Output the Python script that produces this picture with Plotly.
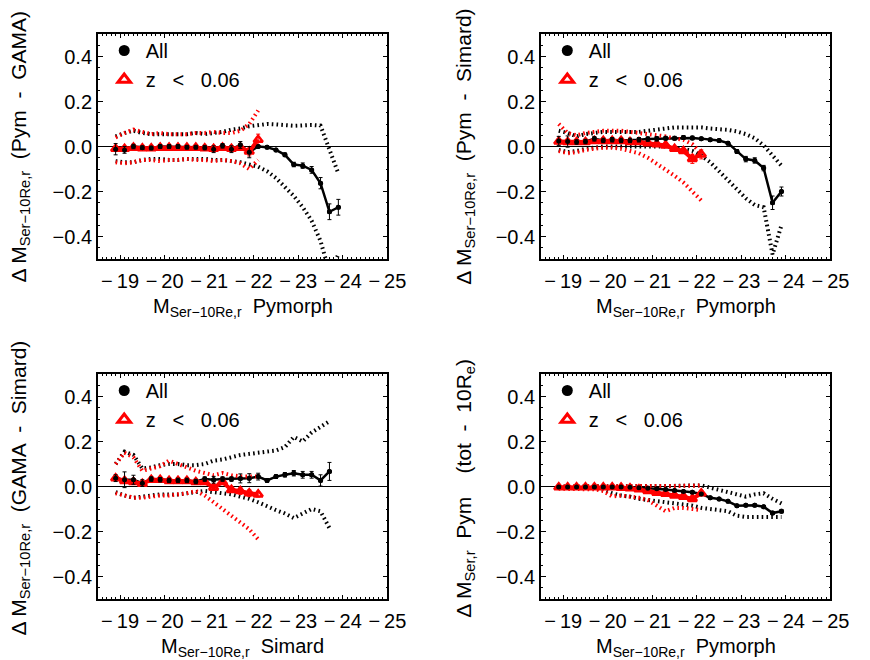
import plotly.graph_objects as go

# ---------------- data ----------------
mag = [-18.9, -19.1, -19.3, -19.5, -19.7, -19.9, -20.1, -20.3, -20.5, -20.7,
       -20.9, -21.1, -21.3, -21.5, -21.7, -21.9, -22.1, -22.3, -22.5, -22.7,
       -22.9, -23.1, -23.3, -23.5, -23.7, -23.9]
mag_p3 = mag[:25]
mag_red = mag[:17]

# Panel 1: Pym - GAMA
p1_all = [-0.012, -0.015, 0.0, -0.005, -0.007, 0.0, 0.0, 0.0, -0.003, -0.003,
          -0.005, -0.012, 0.003, -0.012, 0.007, -0.025, 0.0, -0.003, -0.015, -0.037,
          -0.08, -0.085, -0.104, -0.163, -0.29, -0.27]
p1_all_err = [0.025, 0.015, 0.01, 0.008, 0.008, 0.008, 0.008, 0.008, 0.008, 0.008,
              0.01, 0.015, 0.01, 0.015, 0.015, 0.025, 0.005, 0.005, 0.006, 0.008,
              0.01, 0.012, 0.015, 0.025, 0.035, 0.035]
p1_all_hi = [0.045, 0.06, 0.07, 0.06, 0.055, 0.055, 0.055, 0.055, 0.055, 0.06,
             0.055, 0.06, 0.065, 0.075, 0.08, 0.09, 0.095, 0.1, 0.098, 0.095,
             0.092, 0.094, 0.096, 0.093, -0.01, -0.12]
p1_all_lo = [-0.065, -0.07, -0.07, -0.06, -0.055, -0.055, -0.06, -0.06, -0.055, -0.055,
             -0.055, -0.06, -0.06, -0.065, -0.07, -0.08, -0.09, -0.11, -0.14, -0.18,
             -0.22, -0.27, -0.33, -0.42, -0.56, -0.48]
p1_red = [-0.01, -0.01, -0.005, -0.008, -0.008, -0.005, -0.005, -0.005, -0.005, -0.005,
          -0.008, -0.01, -0.005, -0.01, -0.005, -0.022, 0.03]
p1_red_err = [0.01, 0.01, 0.008, 0.008, 0.008, 0.008, 0.008, 0.008, 0.008, 0.008,
              0.008, 0.01, 0.008, 0.01, 0.01, 0.02, 0.025]
p1_red_hi = [0.04, 0.06, 0.075, 0.065, 0.055, 0.06, 0.055, 0.055, 0.055, 0.06,
             0.06, 0.065, 0.06, 0.06, 0.07, 0.1, 0.16]
p1_red_lo = [-0.07, -0.075, -0.07, -0.06, -0.06, -0.065, -0.06, -0.06, -0.055, -0.06,
             -0.06, -0.065, -0.06, -0.065, -0.075, -0.1, -0.06]

# Panel 2: Pym - Simard
p2_all = [0.025, 0.022, 0.02, 0.022, 0.034, 0.027, 0.03, 0.027, 0.027, 0.03,
          0.033, 0.034, 0.037, 0.037, 0.04, 0.038, 0.035, 0.03, 0.027, 0.015,
          -0.022, -0.056, -0.062, -0.096, -0.25, -0.2]
p2_all_err = [0.02, 0.025, 0.01, 0.01, 0.01, 0.01, 0.01, 0.01, 0.01, 0.01,
              0.01, 0.01, 0.008, 0.008, 0.008, 0.008, 0.006, 0.006, 0.006, 0.006,
              0.008, 0.012, 0.012, 0.012, 0.03, 0.02]
p2_all_hi = [0.07, 0.06, 0.045, 0.055, 0.06, 0.065, 0.065, 0.065, 0.065, 0.065,
             0.07, 0.075, 0.08, 0.085, 0.085, 0.085, 0.085, 0.08, 0.078, 0.074,
             0.067, 0.055, 0.037, 0.005, -0.04, -0.085]
p2_all_lo = [-0.015, -0.025, -0.02, -0.01, -0.005, 0.0, 0.0, 0.0, 0.0, 0.0,
             0.0, 0.0, 0.0, -0.005, -0.01, -0.02, -0.04, -0.07, -0.11, -0.15,
             -0.19, -0.23, -0.26, -0.27, -0.48, -0.35]
p2_red = [0.022, 0.02, 0.02, 0.02, 0.025, 0.025, 0.025, 0.025, 0.02, 0.02,
          0.015, 0.01, 0.005, -0.01, -0.02, -0.055, -0.035]
p2_red_err = [0.01, 0.01, 0.008, 0.008, 0.008, 0.008, 0.008, 0.008, 0.008, 0.008,
              0.008, 0.008, 0.008, 0.01, 0.01, 0.02, 0.02]
p2_red_hi = [0.1, 0.06, 0.05, 0.06, 0.065, 0.07, 0.07, 0.07, 0.065, 0.06,
             0.055, 0.05, 0.045, 0.035, 0.03, 0.01, -0.03]
p2_red_lo = [-0.02, -0.03, -0.025, -0.015, -0.01, -0.005, -0.005, -0.01, -0.02, -0.03,
             -0.05, -0.075, -0.1, -0.13, -0.16, -0.2, -0.24]

# Panel 3: GAMA - Simard
p3_all = [0.037, 0.03, 0.03, 0.015, 0.033, 0.03, 0.027, 0.027, 0.027, 0.022,
          0.033, 0.03, 0.033, 0.033, 0.036, 0.037, 0.044, 0.027, 0.044, 0.052,
          0.059, 0.052, 0.052, 0.027, 0.067]
p3_all_err = [0.015, 0.035, 0.02, 0.015, 0.01, 0.01, 0.01, 0.01, 0.01, 0.01,
              0.01, 0.015, 0.01, 0.01, 0.02, 0.02, 0.015, 0.008, 0.008, 0.01,
              0.012, 0.015, 0.015, 0.025, 0.04]
p3_all_hi = [0.1, 0.155, 0.14, 0.08, 0.085, 0.095, 0.1, 0.1, 0.095, 0.095,
             0.1, 0.115, 0.12, 0.13, 0.14, 0.145, 0.15, 0.155, 0.16, 0.175,
             0.22, 0.2, 0.24, 0.265, 0.29]
p3_all_lo = [-0.025, -0.04, -0.05, -0.045, -0.04, -0.035, -0.035, -0.035, -0.03, -0.025,
             -0.02, -0.025, -0.03, -0.035, -0.045, -0.055, -0.07, -0.09, -0.105, -0.12,
             -0.14, -0.12, -0.1, -0.11, -0.185]
p3_red = [0.037, 0.025, 0.02, 0.012, 0.03, 0.03, 0.025, 0.025, 0.025, 0.02,
          0.02, -0.005, 0.02, -0.015, -0.02, -0.03, -0.035]
p3_red_err = [0.01, 0.01, 0.01, 0.01, 0.008, 0.008, 0.008, 0.008, 0.008, 0.008,
              0.01, 0.01, 0.01, 0.01, 0.015, 0.015, 0.012]
p3_red_hi = [0.1, 0.15, 0.13, 0.07, 0.08, 0.09, 0.115, 0.1, 0.085, 0.07,
             0.06, 0.05, 0.06, 0.05, 0.045, 0.045, 0.045]
p3_red_lo = [-0.03, -0.04, -0.05, -0.05, -0.045, -0.04, -0.04, -0.035, -0.03, -0.02,
             -0.04, -0.07, -0.1, -0.13, -0.16, -0.19, -0.235]

# Panel 4: Pym (tot - 10Re)
p4_all = [-0.002, -0.002, -0.002, -0.002, -0.002, -0.002, -0.002, -0.002, -0.003, -0.005,
          -0.008, -0.01, -0.013, -0.018, -0.022, -0.025, -0.033, -0.05, -0.056, -0.066,
          -0.085, -0.083, -0.083, -0.09, -0.118, -0.11]
p4_all_err = [0.003, 0.003, 0.003, 0.003, 0.003, 0.003, 0.003, 0.003, 0.003, 0.003,
              0.003, 0.003, 0.003, 0.004, 0.004, 0.004, 0.004, 0.004, 0.004, 0.004,
              0.005, 0.005, 0.005, 0.005, 0.007, 0.007]
p4_all_hi = [0.0, 0.0, 0.0, 0.0, 0.0, 0.0, 0.0, 0.0, 0.0, 0.0,
             0.0, 0.0, 0.0, 0.002, 0.003, 0.005, 0.005, -0.005, -0.015, -0.025,
             -0.037, -0.045, -0.035, -0.03, -0.055, -0.075]
p4_all_lo = [-0.005, -0.007, -0.007, -0.007, -0.007, -0.015, -0.03, -0.04, -0.045, -0.055,
             -0.06, -0.065, -0.07, -0.075, -0.08, -0.085, -0.095, -0.1, -0.105, -0.11,
             -0.13, -0.135, -0.135, -0.135, -0.135, -0.135]
p4_red = [-0.003, -0.003, -0.003, -0.003, -0.003, -0.003, -0.003, -0.005, -0.008, -0.012,
          -0.02, -0.028, -0.032, -0.04, -0.045, -0.055, -0.03]
p4_red_err = [0.004, 0.004, 0.004, 0.004, 0.004, 0.004, 0.004, 0.004, 0.005, 0.005,
              0.005, 0.006, 0.006, 0.006, 0.007, 0.01, 0.01]
p4_red_hi = [0.0, 0.0, 0.0, 0.0, 0.0, 0.0, 0.0, 0.0, 0.0, 0.0,
             0.0, 0.0, 0.0, 0.0, 0.0, 0.003, 0.005]
p4_red_lo = [-0.01, -0.012, -0.012, -0.012, -0.012, -0.02, -0.045, -0.04, -0.045, -0.05,
             -0.06, -0.085, -0.11, -0.095, -0.095, -0.1, -0.105]

x_ticks = [-19, -20, -21, -22, -23, -24, -25]
x_ticktext = ["\u2212\u200919", "\u2212\u200920", "\u2212\u200921", "\u2212\u200922",
              "\u2212\u200923", "\u2212\u200924", "\u2212\u200925"]
y_ticks = [-0.4, -0.2, 0.0, 0.2, 0.4]
y_ticktext = ["\u22120.4", "\u22120.2", "0.0", "0.2", "0.4"]

sub = "<sub>Ser\u221210Re,r</sub>"
ytitles = ["\u0394 M" + sub + "  (Pym  -  GAMA)",
           "\u0394 M" + sub + "  (Pym  -  Simard)",
           "\u0394 M" + sub + "  (GAMA  -  Simard)",
           "\u0394 M<sub>Ser,r</sub>  Pym    (tot  -  10R<sub>e</sub>)"]
xtitles = ["M" + sub + "  Pymorph", "M" + sub + "  Pymorph",
           "M" + sub + "  Simard", "M" + sub + "  Pymorph"]
legend_names = ["All", "z\u00a0\u00a0\u00a0<\u00a0\u00a0\u00a00.06"]

panels = [
    (mag, p1_all, p1_all_err, p1_all_hi, p1_all_lo, mag_red, p1_red, p1_red_err, p1_red_hi, p1_red_lo),
    (mag, p2_all, p2_all_err, p2_all_hi, p2_all_lo, mag_red, p2_red, p2_red_err, p2_red_hi, p2_red_lo),
    (mag_p3, p3_all, p3_all_err, p3_all_hi, p3_all_lo, mag_red, p3_red, p3_red_err, p3_red_hi, p3_red_lo),
    (mag, p4_all, p4_all_err, p4_all_hi, p4_all_lo, mag_red, p4_red, p4_red_err, p4_red_hi, p4_red_lo),
]

# ---------------- layout geometry ----------------
W, H = 870, 660
xdoms = [(100 / W, 396 / W), (553 / W, 849 / W)]
ydoms = [((H - 259) / H, (H - 34) / H), ((H - 599) / H, (H - 374) / H)]
FONT = "Liberation Sans, Arial, Helvetica, sans-serif"
FS = 20

fig = go.Figure()
RED = "#ff0000"
dotted = "1.6px,3.2px"

for i, (xa, ya, ea, hi, lo, xr, yr, er, rhi, rlo) in enumerate(panels):
    n = "" if i == 0 else str(i + 1)
    xref, yref = "x" + n, "y" + n
    leg = "legend" + n
    common = dict(xaxis=xref, yaxis=yref, showlegend=False, hoverinfo="skip")
    fig.add_trace(go.Scatter(x=xa, y=hi, mode="lines",
                             line=dict(color="black", width=4, dash=dotted), **common))
    fig.add_trace(go.Scatter(x=xa, y=lo, mode="lines",
                             line=dict(color="black", width=4, dash=dotted), **common))
    fig.add_trace(go.Scatter(x=xa, y=ya, mode="lines+markers",
                             line=dict(color="black", width=2.5),
                             marker=dict(color="black", size=5, symbol="circle"),
                             **common))
    fig.add_trace(go.Scatter(x=xr, y=rhi, mode="lines",
                             line=dict(color=RED, width=4, dash=dotted), **common))
    fig.add_trace(go.Scatter(x=xr, y=rlo, mode="lines",
                             line=dict(color=RED, width=4, dash=dotted), **common))
    fig.add_trace(go.Scatter(x=xr, y=yr, mode="lines+markers",
                             line=dict(color=RED, width=4),
                             marker=dict(color=RED, size=8, symbol="triangle-up-open",
                                         line=dict(color=RED, width=2.5)),
                             error_y=dict(type="data", array=er, color=RED,
                                          thickness=1, width=2),
                             **common))
    fig.add_trace(go.Scatter(x=xa, y=ya, mode="markers",
                             marker=dict(color="black", size=5, symbol="circle"),
                             error_y=dict(type="data", array=ea, color="black",
                                          thickness=1, width=2),
                             **common))
    fig.add_trace(go.Scatter(x=[None], y=[None], mode="markers", name=legend_names[0],
                             marker=dict(color="black", size=11, symbol="circle"),
                             xaxis=xref, yaxis=yref, legend=leg, showlegend=True,
                             legendgroup="a" + n))
    fig.add_trace(go.Scatter(x=[None], y=[None], mode="markers", name=legend_names[1],
                             marker=dict(color=RED, size=11, symbol="triangle-up-open",
                                         line=dict(color=RED, width=3)),
                             xaxis=xref, yaxis=yref, legend=leg, showlegend=True,
                             legendgroup="b" + n))

layout = dict(
    width=W, height=H,
    margin=dict(l=0, r=0, t=0, b=0),
    paper_bgcolor="white", plot_bgcolor="white",
    font=dict(family=FONT, size=FS, color="black"),
    annotations=[],
)

for i in range(4):
    n = "" if i == 0 else str(i + 1)
    col, row = i % 2, i // 2
    xd, yd = xdoms[col], ydoms[row]
    layout["xaxis" + n] = dict(
        domain=list(xd), anchor="y" + n, range=[-18.5, -25],
        tickvals=x_ticks, ticktext=x_ticktext, ticks="inside", ticklen=4,
        tickwidth=1.3, tickcolor="black", showline=True, linecolor="black",
        linewidth=1.5, mirror="ticks", showgrid=False, zeroline=False,
        ticklabelstandoff=3,
        tickfont=dict(size=FS, family=FONT, color="black"),
        minor=dict(dtick=0.1, ticks="inside", ticklen=2, tickwidth=1, tickcolor="black"),
    )
    layout["yaxis" + n] = dict(
        domain=list(yd), anchor="x" + n, range=[-0.5, 0.5],
        tickvals=y_ticks, ticktext=y_ticktext, ticks="inside", ticklen=5,
        tickwidth=1.3, tickcolor="black", showline=True, linecolor="black",
        linewidth=1.5, mirror="ticks", showgrid=False,
        zeroline=True, zerolinecolor="black", zerolinewidth=1,
        tickfont=dict(size=FS, family=FONT, color="black"),
        minor=dict(dtick=0.05, ticks="inside", ticklen=2, tickwidth=1, tickcolor="black"),
    )
    layout["legend" + n] = dict(
        x=xd[0] + 5 / W, y=yd[1] + 3 / H, xanchor="left", yanchor="top",
        bgcolor="rgba(0,0,0,0)", font=dict(size=FS, family=FONT, color="black"),
        itemwidth=33, tracegroupgap=0, traceorder="normal",
    )
    layout["annotations"].append(dict(
        text=ytitles[i], textangle=-90, xref="paper", yref="paper",
        x=(20 if col == 0 else 475) / W, y=(H - (147 if row == 0 else 488)) / H,
        xanchor="center", yanchor="middle", showarrow=False,
        font=dict(size=21, family=FONT, color="black")))
    layout["annotations"].append(dict(
        text=xtitles[i], xref="paper", yref="paper",
        x=(xd[0] + xd[1]) / 2, y=(H - (307 if row == 0 else 647)) / H,
        xanchor="center", yanchor="middle", showarrow=False,
        font=dict(size=FS, family=FONT, color="black")))

fig.update_layout(**layout)
fig.write_html("out.html", config={"displayModeBar": False},
               post_script="document.body.style.margin='0';document.body.style.overflow='hidden';")
